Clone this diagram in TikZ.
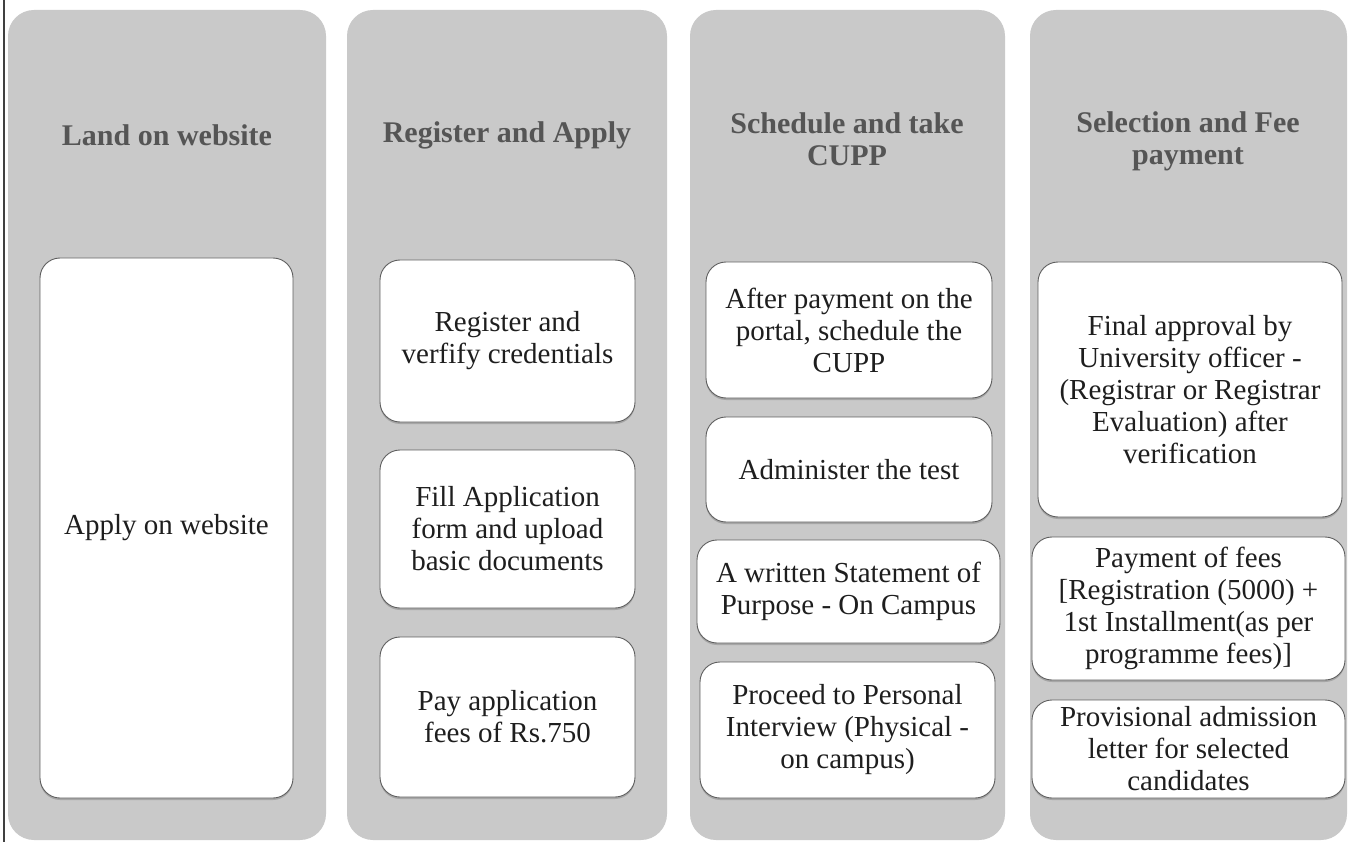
\documentclass[tikz,border=0pt]{standalone}
\usepackage{fontspec}
\setmainfont{Liberation Serif}
\usetikzlibrary{shadows}
\definecolor{colgrey}{RGB}{201,201,201}
\definecolor{boxedge}{RGB}{95,95,95}
\definecolor{headtext}{RGB}{85,85,85}
\definecolor{bodytext}{RGB}{30,30,30}
\begin{document}
\begin{tikzpicture}[x=1pt,y=-1pt,
  column/.style={fill=colgrey, draw=none, rounded corners=26pt},
  header/.style={align=center, text=headtext, font=\fontsize{30}{32}\selectfont\bfseries, inner sep=0pt},
  stepbox/.style={rectangle, rounded corners=20pt, fill=white, draw=boxedge, line width=0.9pt,
    align=center, text=bodytext, font=\fontsize{29}{32}\selectfont, inner sep=0pt,
    drop shadow={shadow xshift=0pt, shadow yshift=-2pt, opacity=0.35, fill=black!60}},
  edge/.style={draw=black!75, line width=2pt}
]
\useasboundingbox (0,0) rectangle (1354,842);
\fill[white] (0,0) rectangle (1354,842);

% left border line
\coordinate (lt) at (4,0);
\coordinate (lb) at (4,842);
\draw[edge] (lt) -- (lb);

% grey columns
\path[column] (8,10) rectangle (326,840);
\path[column] (347,10) rectangle (667,840);
\path[column] (690,10) rectangle (1005,840);
\path[column] (1030,10) rectangle (1347,840);

% headers
\node[header] (h1) at (167,135) {Land on website};
\node[header] (h2) at (507,135) {Register and Apply};
\node[header] (h3) at (847,139) {Schedule and take\\CUPP};
\node[header] (h4) at (1188,141) {Selection and Fee\\payment};

% column 1
\node[stepbox, minimum width=253pt, minimum height=540pt] (a1) at (166.5,528) {Apply on website};

% column 2
\node[stepbox, minimum width=255pt, minimum height=162pt] (b1) at (507.5,341) {Register and\\verfify credentials};
\node[stepbox, minimum width=255pt, minimum height=158pt] (b2) at (507.5,529) {Fill Application\\form and upload\\basic documents};
\node[stepbox, minimum width=255pt, minimum height=160pt] (b3) at (507.5,717) {Pay application\\fees of Rs.750};

% column 3
\node[stepbox, minimum width=286pt, minimum height=136pt] (c1) at (849,330) {After payment on the\\portal, schedule the\\CUPP};
\node[stepbox, minimum width=286pt, minimum height=105pt] (c2) at (849,469.5) {Administer the test};
\node[stepbox, minimum width=303pt, minimum height=103pt] (c3) at (848.5,591.5) {A written Statement of\\Purpose - On Campus};
\node[stepbox, minimum width=295pt, minimum height=136pt] (c4) at (847.5,730) {Proceed to Personal\\Interview (Physical -\\on campus)};

% column 4
\node[stepbox, minimum width=304pt, minimum height=255pt] (d1) at (1190,389.5) {Final approval by\\University officer -\\(Registrar or Registrar\\Evaluation) after\\verification};
\node[stepbox, minimum width=313pt, minimum height=143pt] (d2) at (1188.5,608.5) {Payment of fees\\{[}Registration (5000) +\\1st Installment(as per\\programme fees)]};
\node[stepbox, minimum width=313pt, minimum height=98pt] (d3) at (1188.5,749) {Provisional admission\\letter for selected\\candidates};
\end{tikzpicture}
\end{document}
